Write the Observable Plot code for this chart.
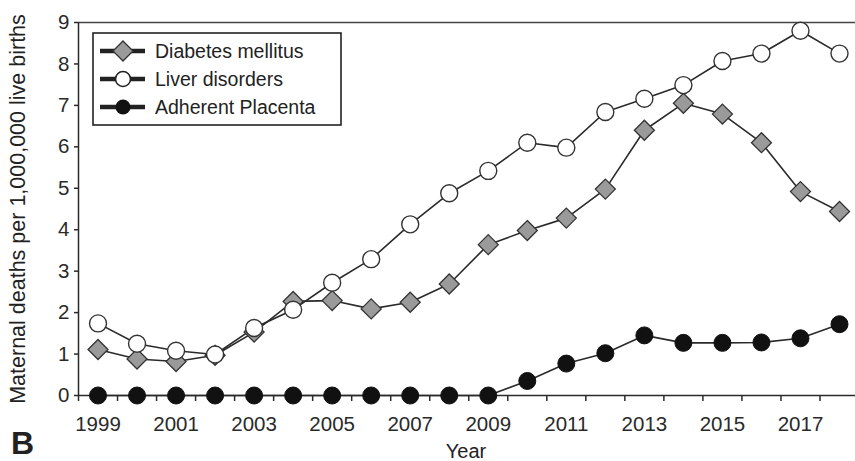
<!DOCTYPE html>
<html>
<head>
<meta charset="utf-8">
<script src="https://cdn.jsdelivr.net/npm/d3@7"></script>
<script src="https://cdn.jsdelivr.net/npm/@observablehq/plot@0.6"></script>
<style>
  body { margin: 0; background: #fff; font-family: "Liberation Sans", Arial, sans-serif; }
  #wrap { position: relative; width: 855px; height: 461px; overflow: hidden; background: #fff; }
  #wrap svg { display: block; }
  .ov { position: absolute; color: #222; white-space: nowrap; line-height: 1; }
  #ylabel { left: 19px; top: 209px; font-size: 21.5px; transform: translate(-50%, -50%) rotate(-90deg); }
  #xlabel { left: 466px; top: 441px; font-size: 20px; transform: translateX(-50%); }
  #panel { left: 11px; top: 427px; font-size: 32px; font-weight: bold; }
  #legend { position: absolute; left: 92px; top: 32px; }
</style>
</head>
<body>
<div id="wrap">
  <div id="chart"></div>
  <div class="ov" id="ylabel">Maternal deaths per 1,000,000 live births</div>
  <div class="ov" id="xlabel">Year</div>
  <div class="ov" id="panel">B</div>
  <div id="legend"></div>
</div>
<script>
// ---- data ----
const years = [1999, 2000, 2001, 2002, 2003, 2004, 2005, 2006, 2007, 2008,
               2009, 2010, 2011, 2012, 2013, 2014, 2015, 2016, 2017, 2018];
const diabetes = [1.11, 0.88, 0.82, 0.97, 1.53, 2.27, 2.29, 2.09, 2.25, 2.69,
                  3.64, 3.98, 4.28, 4.98, 6.40, 7.05, 6.79, 6.10, 4.92, 4.44];
const liver = [1.74, 1.25, 1.08, 0.99, 1.63, 2.07, 2.72, 3.29, 4.13, 4.88,
               5.42, 6.10, 5.98, 6.84, 7.16, 7.49, 8.07, 8.25, 8.80, 8.25];
const placenta = [0, 0, 0, 0, 0, 0, 0, 0, 0, 0,
                  0, 0.35, 0.77, 1.02, 1.45, 1.27, 1.27, 1.28, 1.38, 1.72];
const seriesNames = ["Diabetes mellitus", "Liver disorders", "Adherent Placenta"];
const yTicks = [0, 1, 2, 3, 4, 5, 6, 7, 8, 9];
const xTickLabels = [1999, 2001, 2003, 2005, 2007, 2009, 2011, 2013, 2015, 2017];

// ---- build table ----
const rows = (name, vals) => years.map((y, i) => ({series: name, year: y, value: vals[i]}));
const dDiab = rows(seriesNames[0], diabetes);
const dLiver = rows(seriesNames[1], liver);
const dPlac = rows(seriesNames[2], placenta);
const bounds = years.map(y => y - 0.5).concat([years[years.length - 1] + 0.5]);

const ink = "#2a2a2a";
const chart = Plot.plot({
  width: 855,
  height: 461,
  marginLeft: 78,
  marginRight: 0,
  marginTop: 22,
  marginBottom: 66,
  style: { fontFamily: "'Liberation Sans', Arial, sans-serif", fontSize: "20.5px", color: ink, background: "transparent" },
  x: { domain: [1998.5, 2018.41] },
  y: { domain: [0, 9] },
  marks: [
    Plot.ruleY([9], { stroke: "#444", strokeWidth: 1.5 }),
    Plot.ruleX([1998.5], { stroke: ink, strokeWidth: 1.5 }),
    Plot.ruleY([0], { stroke: ink, strokeWidth: 1.5 }),
    Plot.axisY({ ticks: yTicks, tickSize: 4, tickPadding: 5, label: null, stroke: ink, strokeWidth: 1.5, fill: ink }),
    Plot.axisX({ ticks: bounds, tickSize: 6, tickFormat: () => "", label: null, stroke: ink, strokeWidth: 1.5 }),
    Plot.axisX({ ticks: xTickLabels, tickSize: 0, tickPadding: 21, tickFormat: d => String(d), label: null, fill: ink }),
    Plot.line(dDiab, { x: "year", y: "value", stroke: ink, strokeWidth: 1.6 }),
    Plot.line(dLiver, { x: "year", y: "value", stroke: ink, strokeWidth: 1.6 }),
    Plot.line(dPlac, { x: "year", y: "value", stroke: ink, strokeWidth: 1.6 }),
    Plot.dot(dDiab, { x: "year", y: "value", symbol: "diamond2", r: 9, fill: "#9a9a9a", stroke: "#333", strokeWidth: 1.3 }),
    Plot.dot(dLiver, { x: "year", y: "value", symbol: "circle", r: 8.5, fill: "#fff", stroke: "#333", strokeWidth: 1.4 }),
    Plot.dot(dPlac, { x: "year", y: "value", symbol: "circle", r: 8.5, fill: "#111", stroke: "#111", strokeWidth: 1 })
  ]
});
document.getElementById("chart").appendChild(chart);

// ---- legend ----
const lg = d3.select("#legend").append("svg").attr("width", 252).attr("height", 96);
lg.append("rect").attr("x", 1).attr("y", 1).attr("width", 248).attr("height", 92)
  .attr("fill", "#fff").attr("stroke", "#222").attr("stroke-width", 1.6);
const rowY = [19, 47, 75];
const sym = [
  g => g.append("path").attr("d", d3.symbol(d3.symbolDiamond2, 9 * 9 * Math.PI)()).attr("fill", "#9a9a9a").attr("stroke", "#333").attr("stroke-width", 1.3),
  g => g.append("circle").attr("r", 7.5).attr("fill", "#fff").attr("stroke", "#222").attr("stroke-width", 1.6),
  g => g.append("circle").attr("r", 7.5).attr("fill", "#111")
];
seriesNames.forEach((name, i) => {
  const g = lg.append("g").attr("transform", `translate(0,${rowY[i]})`);
  g.append("line").attr("x1", 8).attr("x2", 53).attr("y1", 0).attr("y2", 0).attr("stroke", "#222").attr("stroke-width", 4.5);
  sym[i](g.append("g").attr("transform", "translate(31,0)"));
  g.append("text").attr("x", 63).attr("y", 0).attr("dy", "0.35em")
    .attr("font-family", "'Liberation Sans', Arial, sans-serif").attr("font-size", 19.5).attr("fill", "#222").text(name);
});
</script>
</body>
</html>
